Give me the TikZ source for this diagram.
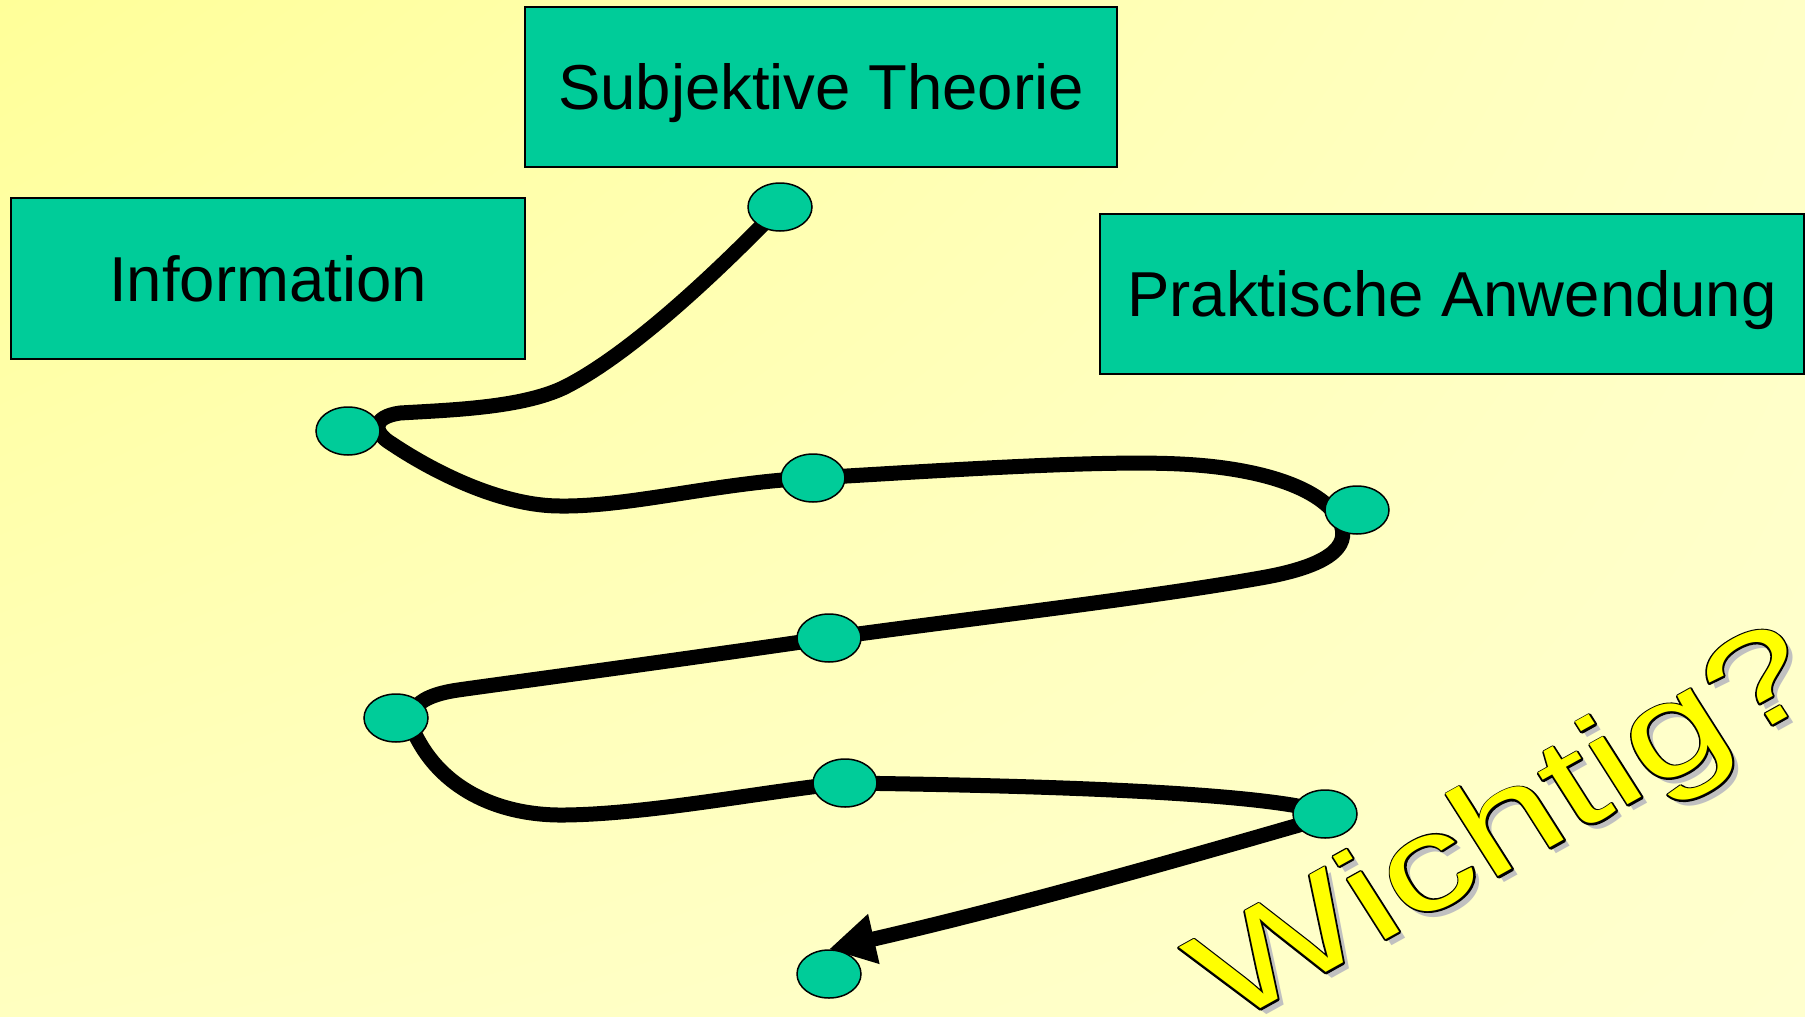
\documentclass[tikz,border=0pt]{standalone}
\usepackage{fontspec}
\setmainfont{Liberation Sans}
\newfontfamily\wfont[FakeStretch=1.32]{Liberation Sans}
\usetikzlibrary{shapes.geometric,arrows.meta,shadings}
\definecolor{boxgreen}{RGB}{0,204,153}
\definecolor{bgA}{RGB}{255,255,153}
\definecolor{bgB}{RGB}{255,255,198}
\definecolor{bgC}{RGB}{255,255,192}
\definecolor{bgD}{RGB}{255,255,206}
\definecolor{wyellow}{RGB}{255,255,0}
\definecolor{wshadow}{RGB}{192,192,192}
\pgfdeclarelayer{bg}\pgfdeclarelayer{lines}
\pgfsetlayers{bg,lines,main}
\newcommand\wstroke[3]{\special{pdf:literal direct #1 RG #2 w 1 j 2 Tr}#3}
\begin{document}
\begin{tikzpicture}[x=1pt,y=-1pt,
  box/.style={draw=black, line width=2pt, fill=boxgreen, inner sep=0pt,
    text height=45.5pt, text depth=0pt, font=\fontsize{63.5}{70}\selectfont},
  dot/.style={ellipse, draw=black, line width=1.5pt, fill=boxgreen,
    minimum width=64pt, minimum height=48pt, inner sep=0pt},
  route/.style={line width=15pt, line cap=round, line join=round, draw=black},
  wtext/.style={rotate=29, xslant=-0.06, anchor=base west, inner sep=0pt,
    font=\wfont\fontsize{135}{135}\selectfont}]
\useasboundingbox (0,0) rectangle (1805,1017);
\begin{pgfonlayer}{bg}
\shade[upper left=bgA, upper right=bgB, lower left=bgC, lower right=bgD]
  (0,0) rectangle (1805,1017);
\end{pgfonlayer}
\begin{scope}
\clip (0,0) rectangle (1805,1017);
% boxes
\node[box, minimum width=513.5pt, minimum height=161pt] (info) at (268,278.5) {Information};
\node[box, minimum width=592pt, minimum height=160pt] (subj) at (821,87) {Subjektive Theorie};
\node[box, minimum width=704pt, minimum height=160pt] (prak) at (1452,294) {Praktische Anwendung};
% dots
\node[dot] (e1) at (780,207) {};
\node[dot] (e2) at (348,431) {};
\node[dot] (e3) at (813,478) {};
\node[dot] (e4) at (1357,510) {};
\node[dot] (e5) at (829,638) {};
\node[dot] (e6) at (396,718) {};
\node[dot] (e7) at (845,783) {};
\node[dot] (e8) at (1325,814) {};
\node[dot] (e9) at (829,974) {};
% route
\begin{pgfonlayer}{lines}
\draw[route, -{Triangle[length=46pt,width=48pt]}]
  (e1.center) .. controls (700,290) and (620,360) .. (563,388)
  .. controls (520,408) and (450,410) .. (400,413)
  .. controls (372,417) and (372,432) .. (392,444)
  .. controls (440,476) and (505,506) .. (560,506)
  .. controls (630,507) and (720,482) .. (e3.center)
  .. controls (950,470) and (1100,460) .. (1180,464)
  .. controls (1265,468) and (1325,490) .. (1340,522)
  .. controls (1352,548) and (1325,566) .. (1266,577)
  .. controls (1150,598) and (950,621) .. (e5.center)
  .. controls (650,664) and (500,684) .. (458,690)
  .. controls (410,697) and (404,716) .. (418,740)
  .. controls (445,790) and (500,816) .. (565,815)
  .. controls (650,814) and (760,792) .. (e7.center)
  .. controls (1000,785) and (1200,790) .. (1292,805)
  .. controls (1322,810) and (1320,820) .. (1292,827)
  .. controls (1150,868) and (1000,910) .. (e9.north);
\end{pgfonlayer}
% Wichtig?
\node[wtext, text=wshadow] (wsh) at (1234,1033) {Wichtig?};
\node[wtext, text=black] (wout) at (1228,1027) {\wstroke{0 0 0}{3.5}{Wichtig?}};
\node[wtext, text=wyellow] (wich) at (1228,1027) {Wichtig?};
\end{scope}
\end{tikzpicture}
\end{document}
